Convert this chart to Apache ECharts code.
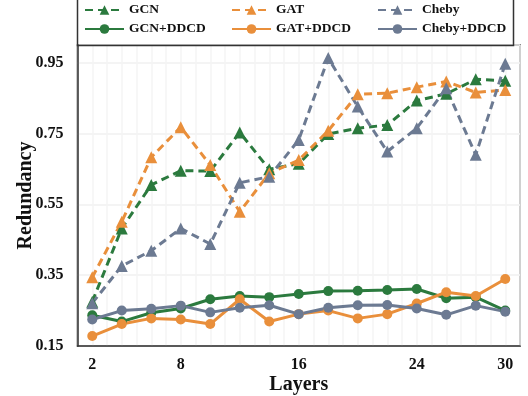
<!DOCTYPE html>
<html>
<head>
<meta charset="utf-8">
<script src="https://cdn.jsdelivr.net/npm/echarts@6/dist/echarts.min.js"></script>
<style>
  html, body { margin: 0; padding: 0; background: #fff; }
  #main { width: 528px; height: 396px; }
</style>
</head>
<body>
<div id="main"></div>
<script>
// redundancy vs layers
var layers = [2, 4, 6, 8, 10, 12, 14, 16, 18, 20, 22, 24, 26, 28, 30];
var xTicks = [2, 8, 16, 24, 30];

var gcn = [0.275, 0.482, 0.605, 0.645, 0.644, 0.753, 0.649, 0.665, 0.749, 0.765, 0.774, 0.843, 0.862, 0.903, 0.899];
var gat = [0.344, 0.501, 0.683, 0.768, 0.661, 0.529, 0.638, 0.675, 0.758, 0.861, 0.864, 0.881, 0.897, 0.866, 0.873];
var cheby = [0.271, 0.376, 0.419, 0.482, 0.438, 0.611, 0.628, 0.732, 0.963, 0.826, 0.699, 0.765, 0.878, 0.690, 0.947];
var gcnDdcd = [0.237, 0.219, 0.244, 0.256, 0.282, 0.291, 0.288, 0.297, 0.305, 0.306, 0.308, 0.311, 0.285, 0.288, 0.250];
var gatDdcd = [0.178, 0.212, 0.228, 0.225, 0.212, 0.282, 0.219, 0.240, 0.250, 0.228, 0.240, 0.270, 0.302, 0.291, 0.339];
var chebyDdcd = [0.225, 0.250, 0.255, 0.264, 0.245, 0.258, 0.265, 0.240, 0.258, 0.265, 0.266, 0.256, 0.238, 0.264, 0.247];

var green = '#2b7a3e', orange = '#e98f3b', grey = '#6c7a92';
var font = 'Liberation Serif';

function pairs(vals) {
  return layers.map(function (x, i) { return [x, vals[i]]; });
}

function mk(name, vals, color, dashed) {
  return {
    name: name,
    type: 'line',
    data: pairs(vals),
    symbol: dashed ? 'triangle' : 'circle',
    symbolSize: dashed ? 12 : 10,
    itemStyle: { color: color },
    lineStyle: { color: color, width: 3, type: dashed ? [8, 5] : 'solid' },
    emphasis: { disabled: true }
  };
}

function legendCol(left, names) {
  return {
    left: left, top: -2, orient: 'vertical', itemGap: 5,
    itemWidth: 39, itemHeight: 12, padding: [5, 0],
    data: names,
    textStyle: { fontFamily: font, fontWeight: 'bold', fontSize: 13.5, color: '#111' }
  };
}

var chart = echarts.init(document.getElementById('main'));
chart.setOption({
  animation: false,
  backgroundColor: '#fff',
  graphic: [{
    type: 'rect',
    shape: { x: 77.5, y: -2, width: 436, height: 47.5 },
    style: { fill: 'none', stroke: '#333', lineWidth: 1.5 },
    z: 100
  }],
  legend: [
    legendCol(84, ['GCN', 'GCN+DDCD']),
    legendCol(231, ['GAT', 'GAT+DDCD']),
    legendCol(377, ['Cheby', 'Cheby+DDCD'])
  ],
  grid: {
    left: 77.5, right: 8, top: 45, bottom: 50,
    outerBoundsMode: 'none',
    show: true, borderColor: '#333', borderWidth: 1.5
  },
  xAxis: {
    type: 'value', min: 1, max: 31, interval: 1,
    name: 'Layers', nameLocation: 'middle', nameGap: 29, nameMoveOverlap: false,
    nameTextStyle: { fontFamily: font, fontWeight: 'bold', fontSize: 20, color: '#111' },
    axisLine: { show: true, lineStyle: { color: '#333', width: 1.5 } },
    axisTick: { show: false },
    axisLabel: {
      customValues: xTicks, margin: 11,
      fontFamily: font, fontWeight: 'bold', fontSize: 16, color: '#111'
    },
    splitLine: { show: true, lineStyle: { color: '#f4f4f4', width: 1.5 } }
  },
  yAxis: {
    type: 'value', min: 0.15, max: 1.0, interval: 0.2,
    name: 'Redundancy', nameLocation: 'middle', nameGap: 42, nameMoveOverlap: false,
    nameTextStyle: { fontFamily: font, fontWeight: 'bold', fontSize: 20, color: '#111' },
    axisLine: { show: true, lineStyle: { color: '#333', width: 1.5 } },
    axisTick: { show: false },
    axisLabel: {
      showMaxLabel: false, margin: 14,
      formatter: function (v) { return v.toFixed(2); },
      fontFamily: font, fontWeight: 'bold', fontSize: 16, color: '#111'
    },
    splitLine: { show: true, lineStyle: { color: '#f0f0f0', width: 1.5 } }
  },
  series: [
    mk('GCN', gcn, green, true),
    mk('GAT', gat, orange, true),
    mk('Cheby', cheby, grey, true),
    mk('GCN+DDCD', gcnDdcd, green, false),
    mk('GAT+DDCD', gatDdcd, orange, false),
    mk('Cheby+DDCD', chebyDdcd, grey, false)
  ]
});
</script>
</body>
</html>
